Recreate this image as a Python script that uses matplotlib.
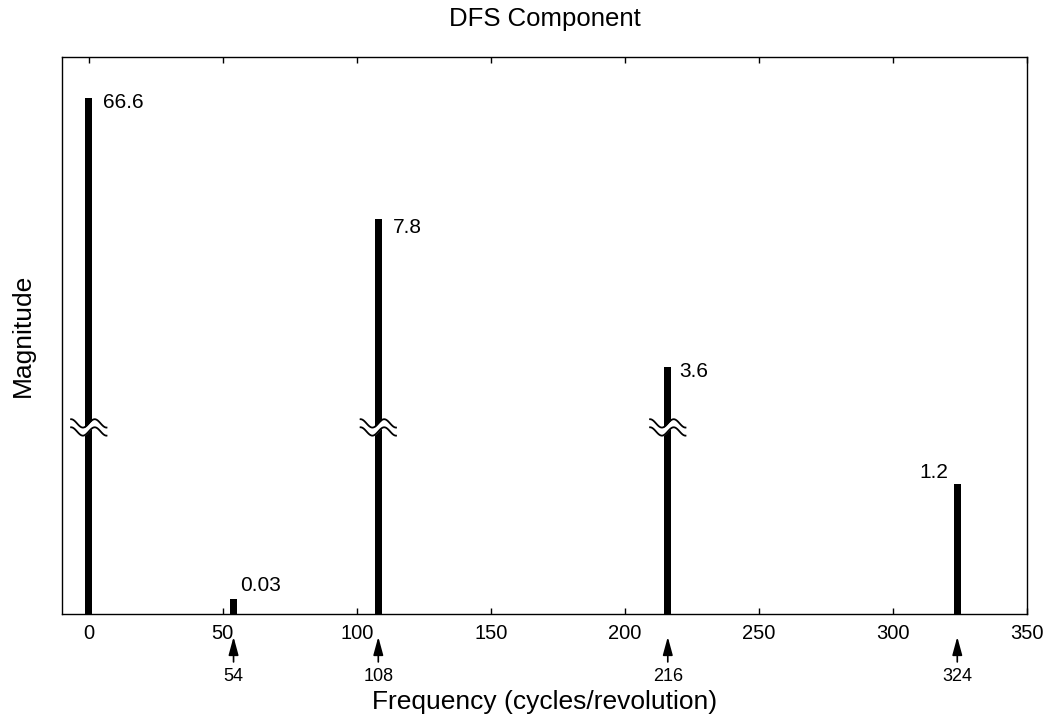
import numpy as np
import matplotlib
matplotlib.use("Agg")
import matplotlib.pyplot as plt

plt.rcParams['font.family'] = ['Liberation Sans', 'DejaVu Sans']

# ---- data ----
freqs = [0, 54, 108, 216, 324]
mags = [66.6, 0.03, 7.8, 3.6, 1.2]
value_labels = ["66.6", "0.03", "7.8", "3.6", "1.2"]
broken = [True, False, True, True, False]
arrow_freqs = [54, 108, 216, 324]
arrow_labels = ["54", "108", "216", "324"]
xticks = [0, 50, 100, 150, 200, 250, 300, 350]

# ---- schematic broken y-scale (axis has breaks, no ticks) ----
scale_vals = [0, 0.03, 1.2, 3.6, 7.8, 66.6, 80]
scale_frac = [0, 0.027, 0.233, 0.443, 0.709, 0.926, 1.0]


def fwd(v):
    return np.interp(v, scale_vals, scale_frac)


def inv(f):
    return np.interp(f, scale_frac, scale_vals)


fig = plt.figure(figsize=(10.49, 7.19), dpi=100)
ax = fig.add_axes([0.0591, 0.146, 0.9199, 0.7747])
ax.set_yscale('function', functions=(fwd, inv))
ax.set_xlim(-10, 350)
ax.set_ylim(0, 80)

ax.bar(freqs, mags, width=2.6, color='black', zorder=3)

# label offsets (points)
label_offsets = [(10, -3, 'left'), (5, 9.4, 'left'), (10.8, -5.8, 'left'),
                 (8, -3, 'left'), (-6.5, 8.6, 'right')]
for f, m, lab, (dx, dy, ha) in zip(freqs, mags, value_labels, label_offsets):
    ax.annotate(lab, xy=(f, m), xytext=(dx, dy), textcoords='offset points',
                ha=ha, va='center', fontsize=15)

# break symbols
brk_y = 0.335
t = np.linspace(0, 1, 60)
half_w = 6.6   # data units in x
amp = 0.0075   # axes fraction
gap = 0.0145
trans = ax.get_xaxis_transform()
for f, b in zip(freqs, broken):
    if not b:
        continue
    xs = f - half_w + 2 * half_w * t
    y1 = brk_y + gap / 2 + amp * np.cos(3 * np.pi * t)
    y2 = brk_y - gap / 2 + amp * np.cos(3 * np.pi * t)
    ax.fill_between(xs, y2, y1, transform=trans, color='white', zorder=4, lw=0)
    ax.plot(xs, y1, transform=trans, color='black', lw=1.3, zorder=5)
    ax.plot(xs, y2, transform=trans, color='black', lw=1.3, zorder=5)

# arrows below the axis
for f, lab in zip(arrow_freqs, arrow_labels):
    ax.annotate('', xy=(f, -0.041), xycoords=('data', 'axes fraction'),
                xytext=(f, -0.086), textcoords=('data', 'axes fraction'),
                arrowprops=dict(arrowstyle='-|>,head_length=1.1,head_width=0.3',
                                color='black', lw=1.2, mutation_scale=10,
                                shrinkA=0, shrinkB=0),
                annotation_clip=False)
    ax.text(f, -0.112, lab, transform=ax.get_xaxis_transform(), ha='center',
            va='center', fontsize=13)

ax.set_xticks(xticks)
ax.set_xticklabels([str(v) for v in xticks])
ax.tick_params(axis='x', direction='in', length=4.5, width=1, top=True,
               labelsize=14.5, pad=7)
ax.tick_params(axis='y', left=False, right=False, labelleft=False)
ax.yaxis.set_minor_locator(matplotlib.ticker.NullLocator())
ax.xaxis.set_minor_locator(matplotlib.ticker.NullLocator())
for s in ax.spines.values():
    s.set_linewidth(1.0)

ax.set_title("DFS Component", fontsize=18.5, pad=22)
ax.set_xlabel("Frequency (cycles/revolution)", fontsize=19)
ax.xaxis.set_label_coords(0.5, -0.136)
ax.set_ylabel("Magnitude", fontsize=19)
ax.yaxis.set_label_coords(-0.028, 0.5)

fig.savefig("out.png", dpi=100)
